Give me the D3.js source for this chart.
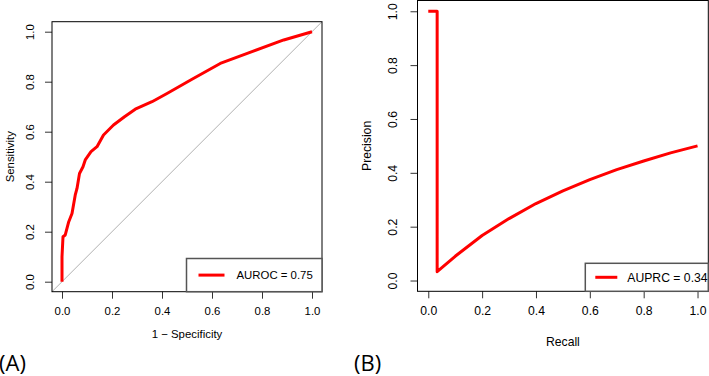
<!DOCTYPE html>
<html>
<head>
<meta charset="utf-8">
<script src="https://cdn.jsdelivr.net/npm/d3@7"></script>
<style>
  body { margin: 0; background: #fff; }
  svg { display: block; }
  text { font-family: "Liberation Sans", Arial, sans-serif; fill: #000; }
</style>
</head>
<body>
<svg id="chart" width="709" height="376"></svg>
<script>
// ROC curve
var rocFpr = [0, 0.0, 0.004, 0.013, 0.027, 0.04, 0.053, 0.06, 0.07, 0.084, 0.093,
              0.116, 0.14, 0.166, 0.206, 0.25, 0.293, 0.36, 0.42, 0.52, 0.633, 0.76, 0.887, 1];
var rocTpr = [0, 0.1, 0.18, 0.187, 0.24, 0.273, 0.347, 0.373, 0.433, 0.46, 0.487,
              0.52, 0.54, 0.587, 0.627, 0.66, 0.69, 0.72, 0.753, 0.81, 0.873, 0.92, 0.967, 1];

// precision-recall curve
var prRecall = [0, 0.033, 0.033, 0.1, 0.2, 0.3, 0.4, 0.5, 0.6, 0.7, 0.8, 0.9, 1.0];
var prPrecision = [1, 1, 0.033, 0.09, 0.167, 0.23, 0.286, 0.333, 0.375, 0.412, 0.444, 0.474, 0.5];

var ticks = [0, 0.2, 0.4, 0.6, 0.8, 1.0];
var legendA = "AUROC = 0.75";
var legendB = "AUPRC = 0.34";

var svg = d3.select("#chart");

// one R-style base plot panel
function panel(opt){
  var g = svg.append("g");
  var x = d3.scaleLinear().domain([-0.04, 1.04]).range([opt.left, opt.left + opt.size]);
  var y = d3.scaleLinear().domain([-0.04, 1.04]).range([opt.top + opt.size, opt.top]);
  var fs = opt.fs;

  if(opt.diag){
    g.append("line")
      .attr("x1", x(-0.04)).attr("y1", y(-0.04))
      .attr("x2", x(1.04)).attr("y2", y(1.04))
      .attr("stroke", "#b0b0b0").attr("stroke-width", 1);
  }

  var line = d3.line()
    .x(function(d){ return x(d[0]); })
    .y(function(d){ return y(d[1]); });
  g.append("path")
    .datum(d3.zip(opt.xs, opt.ys))
    .attr("d", line)
    .attr("fill", "none")
    .attr("stroke", "#ff0000")
    .attr("stroke-width", 3)
    .attr("stroke-linejoin", "round");

  // axes
  var xAxis = d3.axisBottom(x).tickValues(ticks).tickFormat(d3.format(".1f")).tickSize(7).tickPadding(8);
  var gx = g.append("g")
    .attr("transform", "translate(0," + (opt.top + opt.size) + ")")
    .call(xAxis);
  gx.select(".domain").remove();
  gx.selectAll("line").attr("stroke", "#333");
  gx.selectAll("text").style("font-size", fs + "px").style("font-family", "Liberation Sans, Arial, sans-serif");

  var yAxis = d3.axisLeft(y).tickValues(ticks).tickFormat(d3.format(".1f")).tickSize(7);
  var gy = g.append("g")
    .attr("transform", "translate(" + opt.left + ",0)")
    .call(yAxis);
  gy.select(".domain").remove();
  gy.selectAll("line").attr("stroke", "#333");
  // tick groups are already translated to y(d)
  gy.selectAll("text")
    .attr("x", null).attr("dy", null).attr("y", null)
    .attr("text-anchor", "middle")
    .attr("transform", "translate(" + opt.ylabX + ",0) rotate(-90)")
    .style("font-size", fs + "px").style("font-family", "Liberation Sans, Arial, sans-serif");

  // box
  g.append("rect")
    .attr("x", opt.left).attr("y", opt.top)
    .attr("width", opt.size).attr("height", opt.size)
    .attr("fill", "none").attr("stroke", "#000").attr("stroke-width", 1);

  // axis titles
  g.append("text")
    .attr("x", x(0.5)).attr("y", opt.xtitleY)
    .attr("text-anchor", "middle")
    .style("font-size", fs + "px")
    .text(opt.xtitle);
  g.append("text")
    .attr("transform", "translate(" + opt.ytitleX + "," + y(0.5) + ") rotate(-90)")
    .attr("text-anchor", "middle")
    .style("font-size", fs + "px")
    .text(opt.ytitle);

  // legend, bottom right
  var lg = g.append("g");
  lg.append("rect")
    .attr("x", opt.legX).attr("y", opt.legY)
    .attr("width", opt.left + opt.size - opt.legX)
    .attr("height", opt.top + opt.size - opt.legY)
    .attr("fill", "#fff").attr("stroke", "#555").attr("stroke-width", 1.5);
  var my = (opt.legY + opt.top + opt.size) / 2;
  lg.append("line")
    .attr("x1", opt.legX + opt.legLine[0]).attr("x2", opt.legX + opt.legLine[1])
    .attr("y1", my).attr("y2", my)
    .attr("stroke", "#ff0000").attr("stroke-width", 3);
  lg.append("text")
    .attr("x", opt.legX + opt.legText).attr("y", my)
    .attr("dy", "0.36em")
    .style("font-size", fs + "px")
    .text(opt.legend);

  // panel tag
  svg.append("text")
    .attr("x", opt.tagX).attr("y", 371)
    .style("font-family", "Open Sans, Noto Sans, sans-serif")
    .style("font-size", "22px")
    .text(opt.tag);
}

panel({
  left: 52, top: 21.7, size: 270, fs: 11.4,
  xs: rocFpr, ys: rocTpr, diag: true,
  ylabX: -18, ytitleX: 14, xtitleY: 338,
  xtitle: "1 \u2212 Specificity", ytitle: "Sensitivity",
  legX: 186.5, legY: 258.5, legLine: [12, 38], legText: 50, legend: legendA,
  tag: "(A)", tagX: -1
});

panel({
  left: 417.5, top: 0.5, size: 290.8, fs: 12.2,
  xs: prRecall, ys: prPrecision, diag: false,
  ylabX: -21, ytitleX: 371, xtitleY: 346,
  xtitle: "Recall", ytitle: "Precision",
  legX: 585.3, legY: 263.3, legLine: [10, 32], legText: 42, legend: legendB,
  tag: "(B)", tagX: 354
});
</script>
</body>
</html>
